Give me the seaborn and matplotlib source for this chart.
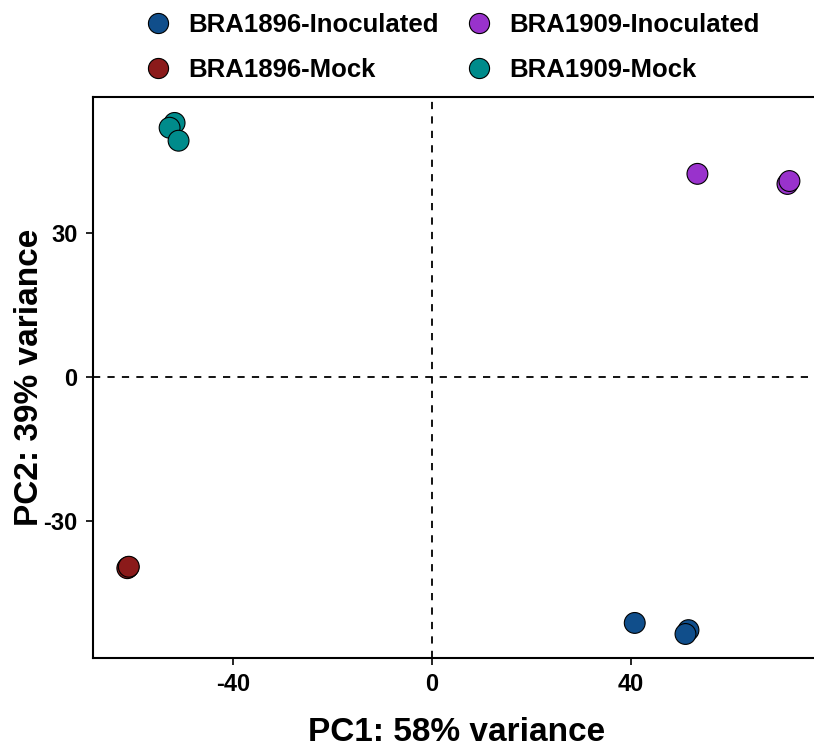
import numpy as np
import pandas as pd
import matplotlib
matplotlib.use("Agg")
import matplotlib.pyplot as plt
import seaborn as sns

# PCA scores
groups = ["BRA1896-Inoculated"] * 3 + ["BRA1896-Mock"] * 3 + \
         ["BRA1909-Inoculated"] * 3 + ["BRA1909-Mock"] * 3
pc1 = [40.8, 51.6, 51.0,
       -61.0, -61.2, -60.9,
       53.4, 71.5, 71.9,
       -51.7, -52.7, -50.9]
pc2 = [-51.2, -52.7, -53.5,
       -39.6, -39.8, -39.5,
       42.3, 40.2, 40.8,
       52.9, 51.9, 49.2]
group_order = ["BRA1896-Inoculated", "BRA1896-Mock",
               "BRA1909-Inoculated", "BRA1909-Mock"]
colors = ["#104E8B", "#8B1A1A", "#9932CC", "#008B8B"]
xticks = [-40, 0, 40]
yticks = [-30, 0, 30]

df = pd.DataFrame({"PC1": pc1, "PC2": pc2, "group": groups})

sns.set_style("white")
plt.rcParams["font.family"] = ["Liberation Sans", "DejaVu Sans"]
plt.rcParams["font.weight"] = "bold"
plt.rcParams["axes.unicode_minus"] = False
plt.rcParams["text.color"] = "black"
plt.rcParams["axes.labelcolor"] = "black"
plt.rcParams["xtick.color"] = "black"
plt.rcParams["ytick.color"] = "black"

fig = plt.figure(figsize=(8.14, 7.51), dpi=100)
ax = fig.add_axes([93 / 814, 93 / 751, 726.8 / 814, 561 / 751])

ax.axhline(0, color="black", ls=(0, (4, 4)), lw=1.3, zorder=1)
ax.axvline(0, color="black", ls=(0, (4, 4)), lw=1.3, zorder=1)

sns.scatterplot(data=df, x="PC1", y="PC2", hue="group", hue_order=group_order,
                palette=colors, s=225, edgecolor="black", linewidth=0.8,
                ax=ax, zorder=3)

ax.set_xlim(-68.1, 78)
ax.set_ylim(-58.5, 58.3)
ax.set_xticks(xticks)
ax.set_yticks(yticks)
ax.tick_params(axis="both", labelsize=17, length=5, width=1.2, direction="out",
               bottom=True, left=True, pad=6, colors="black")
for lab in ax.get_xticklabels() + ax.get_yticklabels():
    lab.set_fontweight("bold")

ax.set_xlabel("PC1: 58% variance", fontsize=24, fontweight="bold", labelpad=15)
ax.set_ylabel("PC2: 39% variance", fontsize=24, fontweight="bold")
ax.yaxis.set_label_coords(-0.066, 0.5)

for side in ["left", "bottom", "top", "right"]:
    ax.spines[side].set_color("black")
    ax.spines[side].set_linewidth(1.5)

sns.move_legend(ax, "upper left", bbox_to_anchor=(114 / 814, 1.006),
                bbox_transform=fig.transFigure, ncol=2, frameon=False,
                title=None, fontsize=18.5, handletextpad=0.2,
                columnspacing=0.55, labelspacing=0.8, borderaxespad=0.3)
leg = ax.get_legend()
for h in leg.legend_handles:
    h.set_markersize(14.5)
    h.set_markeredgecolor("black")
    h.set_markeredgewidth(0.8)
for t in leg.get_texts():
    t.set_fontweight("bold")
    t.set_color("black")

fig.savefig("out.png", dpi=100)
